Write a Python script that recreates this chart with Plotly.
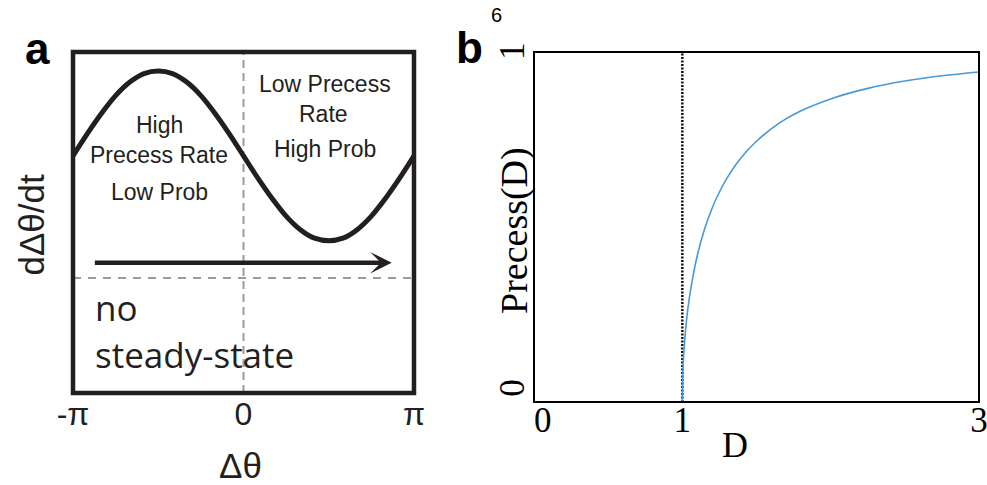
import math
import plotly.graph_objects as go

# ---------------- data ----------------
# panel a: phase difference (rad) and d(delta theta)/dt (arb. units, 0 = steady-state line)
phase = [-3.142, -2.880, -2.618, -2.356, -2.094, -1.833, -1.571, -1.309, -1.047,
         -0.785, -0.524, -0.262, 0.0, 0.262, 0.524, 0.785, 1.047, 1.309, 1.571,
         1.833, 2.094, 2.356, 2.618, 2.880, 3.142]
rate = [1.44, 1.70, 1.94, 2.15, 2.31, 2.41, 2.44, 2.41, 2.31, 2.15, 1.94, 1.70,
        1.44, 1.18, 0.94, 0.73, 0.57, 0.47, 0.44, 0.47, 0.57, 0.73, 0.94, 1.18, 1.44]
phase_ticks = [-math.pi, 0.0, math.pi]
phase_tick_text = ["-π", "0", "π"]

# panel b: D and Precess(D)
D_vals = [1.0, 1.005, 1.01, 1.02, 1.035, 1.05, 1.075, 1.1, 1.15, 1.2, 1.25, 1.3,
          1.4, 1.5, 1.65, 1.8, 2.0, 2.25, 2.5, 2.75, 3.0]
precess = [0.0, 0.100, 0.140, 0.197, 0.259, 0.305, 0.366, 0.417, 0.494, 0.553,
           0.600, 0.639, 0.700, 0.745, 0.796, 0.832, 0.866, 0.896, 0.917, 0.932, 0.943]
D_threshold = 1.0
D_ticks = [0, 1, 3]
D_tick_text = ["\u00a0\u00a00", "1", "3"]
P_ticks = [0, 1]
P_tick_text = ["\u00a0\u00a00", "1\u00a0"]

INK = "#231f20"
SANS = "Liberation Sans, Arial, Helvetica, sans-serif"
SERIF = "Liberation Serif, Times New Roman, serif"

W, H = 987, 485
def px(x):
    return x / W
def py(y):
    return 1 - y / H

fig = go.Figure()

# panel a curve
fig.add_trace(go.Scatter(x=phase, y=rate, mode="lines", line=dict(color=INK, width=5, shape="spline"),
                         xaxis="x", yaxis="y", showlegend=False, hoverinfo="skip"))

# panel b curves
fig.add_trace(go.Scatter(x=[D_threshold, D_threshold], y=[0, 1], mode="lines",
                         line=dict(color="#111111", width=2.5, dash="2px,1.5px"),
                         xaxis="x2", yaxis="y2", showlegend=False, hoverinfo="skip"))
fig.add_trace(go.Scatter(x=D_vals, y=precess, mode="lines",
                         line=dict(color="#4a98d8", width=1.6, shape="spline"),
                         xaxis="x2", yaxis="y2", showlegend=False, hoverinfo="skip"))

shapes = [
    # dashed guide lines in panel a
    dict(type="line", xref="x", yref="y domain", x0=0, x1=0, y0=0, y1=1, layer="below",
         line=dict(color="#9b9b9b", width=2, dash="8px,5px")),
    dict(type="line", xref="x domain", yref="y", x0=0, x1=1, y0=0, y1=0, layer="below",
         line=dict(color="#9b9b9b", width=2, dash="8px,7px")),
    # frames
    dict(type="rect", xref="x domain", yref="y domain", x0=0, x1=1, y0=0, y1=1,
         line=dict(color=INK, width=4.5), layer="above"),
    dict(type="rect", xref="x2 domain", yref="y2 domain", x0=0, x1=1, y0=0, y1=1,
         line=dict(color="black", width=2), layer="above"),
]

ann = []
def txt(text, x, y, size, font=SANS, xref="x", yref="y", xanchor="center", angle=0, bold=False, color=INK):
    ann.append(dict(text=("<b>%s</b>" % text) if bold else text, x=x, y=y, xref=xref, yref=yref,
                    xanchor=xanchor, yanchor="middle", showarrow=False, textangle=angle,
                    font=dict(family=font, size=size, color=color)))

# panel labels
txt("a", px(37), py(49), 44, xref="paper", yref="paper", bold=True, color="black")
txt("b", px(469), py(48), 44, xref="paper", yref="paper", bold=True, color="black")
txt("6", px(497), py(15), 20, xref="paper", yref="paper", color="black")

# region annotations in panel a
txt("High", -1.557, 1.808, 23)
txt("Precess Rate", -1.566, 1.454, 23)
txt("Low Prob", -1.557, 1.009, 23)
txt("Low Precess", 1.502, 2.288, 23)
txt("Rate", 1.483, 1.934, 23)
txt("High Prob", 1.493, 1.521, 23)
txt("no", -2.773, -0.342, 35, font="Open Sans, sans-serif", xanchor="left")
txt("steady-state", -2.773, -0.904, 35, font="Open Sans, sans-serif", xanchor="left")

# axis titles
txt("Δθ", px(240), py(465), 35, xref="paper", yref="paper")
txt("dΔθ/dt", px(30.5), py(225), 35, xref="paper", yref="paper", angle=-90)
txt("D", px(735), py(445), 36, font=SERIF, xref="paper", yref="paper", color="black")
txt("Precess(D)", px(514), py(231), 38, font=SERIF, xref="paper", yref="paper", angle=-90, color="black")

# arrow
ann.append(dict(text="", x=2.731, y=0.180, ax=-2.767, ay=0.180, xref="x", yref="y",
                axref="x", ayref="y", showarrow=True, arrowhead=3, arrowwidth=4.5,
                arrowsize=0.8, arrowcolor=INK, standoff=0))

fig.update_layout(
    width=W, height=H, autosize=False,
    margin=dict(l=0, r=0, t=0, b=0),
    paper_bgcolor="white", plot_bgcolor="white",
    shapes=shapes, annotations=ann,
    xaxis=dict(domain=[px(73), px(414)], range=[-math.pi, math.pi], tickvals=phase_ticks,
               ticktext=phase_tick_text, ticks="", showgrid=False, zeroline=False, showline=False,
               tickfont=dict(family=SANS, size=32, color=INK), ticklabelstandoff=-1, anchor="y",
               automargin=False, ticklabeloverflow="allow"),
    yaxis=dict(domain=[py(393), py(52)], range=[-1.356, 2.665], showticklabels=False, ticks="",
               showgrid=False, zeroline=False, showline=False, anchor="x", automargin=False),
    xaxis2=dict(domain=[px(534), px(979)], range=[0, 3], tickvals=D_ticks, ticktext=D_tick_text,
                ticks="", showgrid=False, zeroline=False, showline=False,
                tickfont=dict(family=SERIF, size=35, color="black"), ticklabelstandoff=-6, anchor="y2",
                automargin=False, ticklabeloverflow="allow"),
    yaxis2=dict(domain=[py(402), py(52)], range=[0, 1], tickvals=P_ticks, ticktext=P_tick_text,
                ticks="", tickangle=-90,
                showgrid=False, zeroline=False, showline=False,
                tickfont=dict(family=SERIF, size=35, color="black"), ticklabelstandoff=2, anchor="x2",
                automargin=False, ticklabeloverflow="allow"),
)

fig.write_html("out.html", config={"displayModeBar": False},
               post_script="document.body.style.margin='0';document.body.style.overflow='hidden';")
